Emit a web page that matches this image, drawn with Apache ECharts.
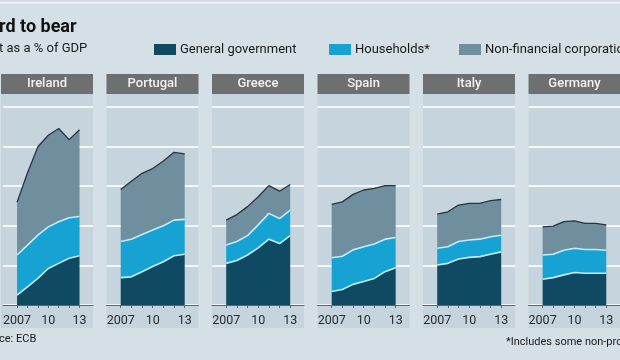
<!DOCTYPE html>
<html>
<head>
<meta charset="utf-8">
<script src="https://cdn.jsdelivr.net/npm/echarts@6/dist/echarts.min.js"></script>
<style>
html,body{margin:0;padding:0;background:#d5e0e6;}
#c{width:620px;height:360px;}
</style>
</head>
<body>
<div id="c"></div>
<script>
// ---- data (debt as % of GDP) ----
var years = [2007, 2008, 2009, 2010, 2011, 2012, 2013];
var tickLabels = ['2007', '10', '13'];
var countries = ['Ireland', 'Portugal', 'Greece', 'Spain', 'Italy', 'Germany'];
var seriesNames = ['General government', 'Households*', 'Non-financial corporations'];

var govIreland   = [25, 46, 67, 92, 105, 118, 124];
var hhIreland    = [101, 105, 109, 105, 105, 102, 99];
var nfcIreland   = [133, 182, 223, 231, 235, 197, 219];

var govPortugal  = [69, 71, 84, 97, 109, 124, 128];
var hhPortugal   = [91, 95, 94, 92, 91, 90, 88];
var nfcPortugal  = [131, 146, 154, 155, 163, 171, 165];

var govGreece    = [105, 112, 126, 144, 166, 155, 175];
var hhGreece     = [46, 48, 49, 58, 65, 63, 64];
var nfcGreece    = [63, 68, 73, 71, 70, 69, 65];

var govSpain     = [34, 39, 52, 59, 67, 84, 94];
var hhSpain      = [85, 84, 87, 88, 87, 82, 76];
var nfcSpain     = [135, 137, 140, 143, 140, 135, 131];

var govItaly     = [101, 105, 116, 120, 122, 128, 134];
var hhItaly      = [42, 42, 44, 44, 44, 44, 42];
var nfcItaly     = [86, 88, 92, 92, 90, 91, 90];

var govGermany   = [65, 69, 76, 82, 80, 80, 80];
var hhGermany    = [61, 59, 62, 61, 60, 60, 58];
var nfcGermany   = [71, 71, 72, 69, 66, 66, 64];

var dataByCountry = [
  [govIreland, hhIreland, nfcIreland],
  [govPortugal, hhPortugal, nfcPortugal],
  [govGreece, hhGreece, nfcGreece],
  [govSpain, hhSpain, nfcSpain],
  [govItaly, hhItaly, nfcItaly],
  [govGermany, hhGermany, nfcGermany]
];

// ---- styles / layout ----
var FONT = 'Roboto, "Noto Sans", sans-serif';
var fillColors = ['#0f4a62', '#17a2d4', '#6f8e9e'];
var lineColors = ['#c4ecf8', '#c4ecf8', '#26363d'];
var panelW = 92, panelPitch = 105.5, panelLeft0 = 1;
var plotTop = 106.7, plotBottom = 305;
var pxPerYear = 64 / 6;
var xMin = 2007 - 14.2 / pxPerYear;
var xMax = xMin + panelW / pxPerYear;

var chart = echarts.init(document.getElementById('c'), null, {renderer: 'canvas'});

var grids = [], xAxes = [], yAxes = [], series = [], graphics = [];

graphics.push({type: 'rect', shape: {x: 0, y: 2, width: 620, height: 1.5}, style: {fill: '#eef4f7'}, z: -20});

countries.forEach(function (name, i) {
  var left = panelLeft0 + panelPitch * i;
  graphics.push({type: 'rect', shape: {x: left, y: 94, width: panelW, height: 234}, style: {fill: '#c5d4dd'}, z: -10});
  graphics.push({type: 'rect', shape: {x: left, y: 74, width: panelW, height: 20}, style: {fill: '#6d6f71'}, z: -5});
  graphics.push({type: 'text', x: left + panelW / 2, y: 84, style: {text: name, fill: '#f2f2f2', font: '500 13px ' + FONT, align: 'center', verticalAlign: 'middle'}, z: -4});

  grids.push({left: left, width: panelW, top: plotTop, height: plotBottom - plotTop, containLabel: false});
  xAxes.push({
    type: 'value', gridIndex: i, min: xMin, max: xMax,
    splitLine: {show: false},
    axisLine: {show: true, lineStyle: {color: '#5d6468', width: 1}},
    axisTick: {show: true, customValues: years, length: 3, lineStyle: {color: '#5d6468'}},
    axisLabel: {
      customValues: [2007, 2010, 2013], margin: 9,
      formatter: function (v) { return tickLabels[[2007, 2010, 2013].indexOf(Math.round(v))]; },
      color: '#2b2b2b', fontSize: 12.5, fontFamily: FONT
    }
  });
  yAxes.push({
    type: 'value', gridIndex: i, min: 0, max: 500, interval: 100,
    axisLine: {show: false}, axisTick: {show: false}, axisLabel: {show: false},
    splitLine: {show: true, lineStyle: {color: '#f4f8fa', width: 2}}
  });
  dataByCountry[i].forEach(function (vals, k) {
    series.push({
      type: 'line', name: seriesNames[k], xAxisIndex: i, yAxisIndex: i,
      stack: 'c' + i, showSymbol: false, symbol: 'none', silent: true,
      z: 5 - k,
      // value first so that the stack is applied to the value (y) dimension
      encode: {x: 1, y: 0},
      data: years.map(function (y, j) { return [vals[j], y]; }),
      itemStyle: {color: fillColors[k]},
      lineStyle: {color: lineColors[k], width: k === 2 ? 1.3 : 1.6},
      areaStyle: {color: fillColors[k], opacity: 1}
    });
  });
});

// titles / notes
graphics.push({type: 'text', x: -1, y: 27, style: {text: 'rd to bear', fill: '#111', font: 'bold 18px ' + FONT, verticalAlign: 'middle'}});
graphics.push({type: 'text', x: -1, y: 49, style: {text: 't as a % of GDP', fill: '#1a1a1a', font: '13px ' + FONT, verticalAlign: 'middle'}});
graphics.push({type: 'text', x: -1, y: 339, style: {text: 'ce: ECB', fill: '#1a1a1a', font: '11px ' + FONT, verticalAlign: 'middle'}});
graphics.push({type: 'text', x: 506, y: 342, style: {text: '*Includes some non-profit institutions', fill: '#1a1a1a', font: '11px ' + FONT, verticalAlign: 'middle'}});

var legendLefts = [154, 329, 459];
var legends = seriesNames.map(function (n, k) {
  return {
    left: legendLefts[k], top: 43, itemWidth: 22, itemHeight: 11, icon: 'rect', padding: 0,
    itemGap: 5, selectedMode: false,
    data: [{name: n, icon: 'rect', itemStyle: {color: fillColors[k], borderWidth: 0}}],
    textStyle: {color: '#1a1a1a', fontSize: 13, fontFamily: FONT, padding: [0, 0, 0, -1]}
  };
});

chart.setOption({
  backgroundColor: '#d5e0e6',
  animation: false,
  legend: legends,
  grid: grids,
  xAxis: xAxes,
  yAxis: yAxes,
  series: series,
  graphic: {elements: graphics}
});
</script>
</body>
</html>
